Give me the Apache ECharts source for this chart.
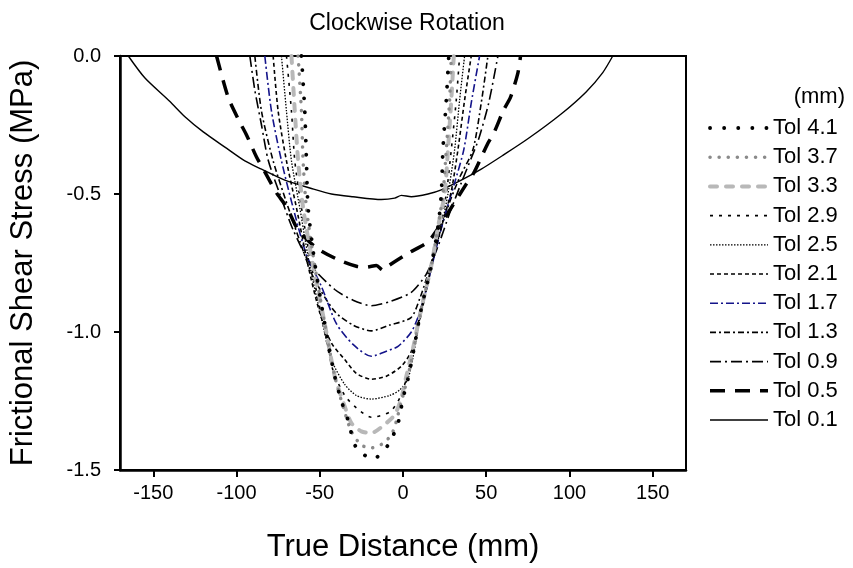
<!DOCTYPE html>
<html>
<head>
<meta charset="utf-8">
<script src="https://cdn.jsdelivr.net/npm/echarts@6/dist/echarts.min.js"></script>
<style>
  html, body { margin: 0; padding: 0; background: #fff; }
  #chart { width: 853px; height: 568px; }
</style>
</head>
<body>
<div id="chart"></div>
<script>
// values: [true distance (mm), stress (MPa)]
const tol41 = [[-61,0],[-59,-0.2],[-58,-0.38],[-57,-0.55],[-53,-0.75],[-47,-0.97],[-41,-1.16],[-37,-1.25],[-33,-1.32],[-28,-1.42],[-18,-1.46],[-9,-1.41],[-3,-1.33],[0,-1.24],[3,-1.17],[6.6,-1.06],[10.8,-0.92],[17,-0.76],[21,-0.62],[23,-0.5],[24,-0.34],[26,-0.16],[27.5,0]];
const tol37 = [[-63,0],[-61,-0.2],[-60,-0.38],[-58,-0.55],[-53,-0.76],[-47,-0.97],[-41,-1.16],[-36,-1.27],[-31,-1.36],[-25,-1.41],[-19,-1.42],[-11,-1.4],[-6,-1.36],[-3,-1.3],[0,-1.23],[3,-1.16],[6.5,-1.06],[10.8,-0.92],[17,-0.76],[21,-0.62],[24,-0.5],[26,-0.34],[28,-0.16],[29,0]];
const tol33 = [[-67,0],[-65,-0.2],[-63,-0.38],[-60,-0.55],[-54,-0.76],[-47,-0.97],[-41,-1.16],[-35,-1.27],[-31,-1.33],[-25,-1.36],[-19,-1.366],[-12,-1.34],[-5,-1.3],[-1,-1.24],[2,-1.16],[6,-1.06],[10.8,-0.92],[17,-0.76],[21,-0.62],[25,-0.5],[27,-0.34],[29,-0.16],[30.5,0]];
const tol29 = [[-70,0],[-67,-0.2],[-65,-0.38],[-61,-0.55],[-55,-0.76],[-48,-0.97],[-42,-1.14],[-35,-1.23],[-28,-1.275],[-19,-1.309],[-8,-1.29],[-2,-1.24],[2,-1.17],[6,-1.06],[10.8,-0.92],[17,-0.76],[22,-0.62],[26,-0.5],[29,-0.34],[32,-0.16],[34,0]];
const tol25 = [[-73,0],[-70,-0.2],[-67,-0.38],[-62,-0.55],[-56,-0.76],[-49,-0.95],[-43,-1.1],[-35,-1.19],[-28,-1.23],[-19,-1.243],[-8,-1.23],[-2,-1.21],[3,-1.17],[7,-1.06],[11,-0.92],[17,-0.76],[23,-0.62],[27,-0.5],[31,-0.34],[34,-0.16],[37,0]];
const tol21 = [[-78,0],[-75,-0.2],[-70,-0.38],[-64,-0.55],[-57,-0.76],[-50,-0.93],[-43,-1.04],[-35,-1.1],[-28,-1.15],[-19,-1.171],[-10,-1.16],[-1,-1.124],[5,-1.07],[10,-0.96],[15,-0.82],[19,-0.71],[24,-0.6],[29,-0.49],[33,-0.34],[37,-0.16],[41,0]];
const tol17 = [[-83,0],[-79,-0.2],[-73,-0.38],[-66,-0.55],[-58,-0.72],[-49,-0.835],[-40,-0.97],[-30,-1.045],[-19,-1.088],[-10,-1.07],[-3,-1.052],[5,-1],[10,-0.93],[14,-0.846],[19,-0.72],[25,-0.58],[31,-0.46],[36.5,-0.34],[41,-0.17],[46,0]];
const tol13 = [[-89,0],[-85,-0.2],[-78,-0.38],[-70,-0.53],[-62,-0.67],[-54,-0.8],[-41,-0.926],[-30,-0.975],[-19,-0.996],[-8,-0.975],[4.8,-0.948],[10,-0.88],[16,-0.77],[22,-0.64],[28,-0.53],[34,-0.44],[42,-0.34],[47,-0.17],[51,0]];
const tol09 = [[-92,0],[-89,-0.124],[-85,-0.25],[-81,-0.377],[-74,-0.5],[-66,-0.63],[-55,-0.76],[-41,-0.846],[-30,-0.885],[-19,-0.905],[-8,-0.89],[4.8,-0.857],[14,-0.79],[21,-0.69],[28,-0.57],[35,-0.46],[41,-0.37],[45.5,-0.3],[51.5,-0.17],[57,0]];
const tol05 = [[-112,0],[-105,-0.15],[-98.7,-0.232],[-94,-0.286],[-88,-0.366],[-83,-0.42],[-76,-0.496],[-70,-0.546],[-63,-0.63],[-52,-0.695],[-39,-0.738],[-28,-0.762],[-22,-0.765],[-16,-0.759],[-12,-0.776],[-8.4,-0.759],[3.6,-0.713],[15,-0.673],[22.7,-0.61],[30,-0.54],[37.7,-0.467],[42.5,-0.424],[51,-0.316],[54.5,-0.28],[60.4,-0.196],[64.6,-0.149],[69,-0.062],[70.6,0]];
const tol01 = [[-165,0],[-155,-0.08],[-140,-0.165],[-131,-0.22],[-120,-0.275],[-107,-0.33],[-95,-0.38],[-85,-0.41],[-71,-0.45],[-55,-0.48],[-43,-0.5],[-30,-0.51],[-13,-0.52],[-5,-0.515],[-1,-0.505],[5,-0.51],[15,-0.5],[23,-0.485],[35,-0.45],[47,-0.41],[60,-0.36],[75,-0.3],[95,-0.21],[110,-0.13],[120,-0.06],[126,0]];

const seriesNames = ["Tol 4.1", "Tol 3.7", "Tol 3.3", "Tol 2.9", "Tol 2.5", "Tol 2.1", "Tol 1.7", "Tol 1.3", "Tol 0.9", "Tol 0.5", "Tol 0.1"];
const seriesData = [tol41, tol37, tol33, tol29, tol25, tol21, tol17, tol13, tol09, tol05, tol01];
const xTicks = [-150, -100, -50, 0, 50, 100, 150];

// line looks, same order as the names
const looks = [
  { color: "#000", width: 3.8, type: [0.1, 14], cap: "round" },
  { color: "#8a8a8a", width: 3.5, type: [0.1, 9], cap: "round" },
  { color: "#b8b8b8", width: 4, type: [7, 9], cap: "round" },
  { color: "#000", width: 1.6, type: [3, 6] },
  { color: "#000", width: 1.3, type: [1.5, 1.5] },
  { color: "#000", width: 1.6, type: [4, 3] },
  { color: "#14148a", width: 1.6, type: [8, 3, 2, 3] },
  { color: "#000", width: 1.6, type: [6, 3, 2, 3] },
  { color: "#000", width: 1.6, type: [11, 4, 2, 4] },
  { color: "#000", width: 3.5, type: [15, 10] },
  { color: "#000", width: 1.4, type: "solid" },
];

const font = "Arial, 'Liberation Sans', sans-serif";
const chart = echarts.init(document.getElementById("chart"));

chart.setOption({
  animation: false,
  backgroundColor: "#fff",
  title: [
    {
      text: "Clockwise Rotation",
      left: 402,
      top: 7,
      textAlign: "center",
      textStyle: { fontFamily: font, fontSize: 23, fontWeight: "normal", color: "#000" },
    },
    {
      text: "(mm)",
      right: 3,
      top: 81,
      textStyle: { fontFamily: font, fontSize: 22, fontWeight: "normal", color: "#000" },
    },
  ],
  grid: {
    left: 118,
    right: 167,
    top: 56,
    bottom: 97,
    show: true,
    borderColor: "#000",
    borderWidth: 2,
    backgroundColor: "transparent",
  },
  legend: {
    orient: "vertical",
    left: 703,
    top: 112,
    itemWidth: 58,
    itemHeight: 18,
    itemGap: 7.2,
    itemStyle: { opacity: 0 },
    lineStyle: { width: "inherit", cap: "inherit" },
    textStyle: { fontFamily: font, fontSize: 22, color: "#000", lineHeight: 22 },
    data: seriesNames,
  },
  xAxis: {
    type: "value",
    min: -170,
    max: 170,
    name: "True Distance (mm)",
    nameLocation: "middle",
    nameGap: 62,
    nameTextStyle: { fontFamily: font, fontSize: 31, color: "#000" },
    axisLine: { onZero: false, lineStyle: { color: "#000", width: 2.5 } },
    axisTick: { show: true, inside: false, length: 7, lineStyle: { color: "#000", width: 2 }, customValues: xTicks },
    axisLabel: { fontFamily: font, fontSize: 20, color: "#000", margin: 13, customValues: xTicks },
    splitLine: { show: false },
  },
  yAxis: {
    type: "value",
    min: -1.5,
    max: 0,
    interval: 0.5,
    name: "Frictional Shear Stress (MPa)",
    nameLocation: "middle",
    nameGap: 81,
    nameTextStyle: { fontFamily: font, fontSize: 31, color: "#000" },
    axisLine: { show: true, onZero: false, lineStyle: { color: "#000", width: 2.5 } },
    axisTick: { show: true, inside: false, length: 6, lineStyle: { color: "#000", width: 2 } },
    axisLabel: { fontFamily: font, fontSize: 20, color: "#000", margin: 19, formatter: (v) => v.toFixed(1) },
    splitLine: { show: false },
  },
  series: seriesNames.map((name, i) => ({
    name,
    type: "line",
    data: seriesData[i],
    showSymbol: false,
    symbol: "none",
    smooth: 0.25,
    z: 20 - i,
    lineStyle: {
      color: looks[i].color,
      width: looks[i].width,
      type: looks[i].type,
      cap: looks[i].cap || "butt",
    },
    itemStyle: { color: looks[i].color },
  })),
});
</script>
</body>
</html>
